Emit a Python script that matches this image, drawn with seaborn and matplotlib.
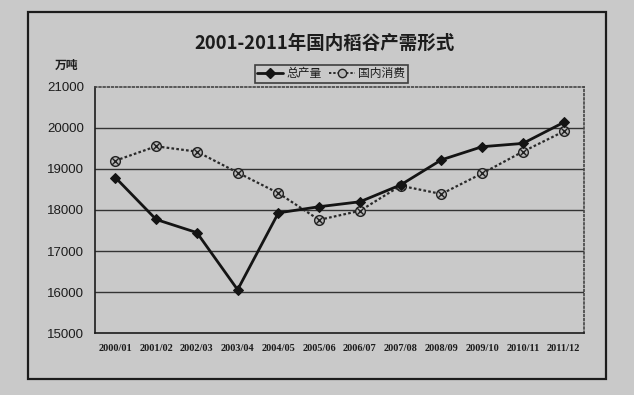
import matplotlib
matplotlib.use("Agg")
import matplotlib.pyplot as plt
import seaborn as sns
import pandas as pd
from matplotlib.patches import Rectangle
from matplotlib.lines import Line2D

years = ["2000/01", "2001/02", "2002/03", "2003/04", "2004/05", "2005/06",
         "2006/07", "2007/08", "2008/09", "2009/10", "2010/11", "2011/12"]
production = [18790, 17770, 17450, 16060, 17930, 18080,
              18200, 18610, 19220, 19540, 19620, 20130]
consumption = [19200, 19550, 19420, 18910, 18410, 17760,
               17980, 18590, 18390, 18890, 19420, 19910]
yticks = [15000, 16000, 17000, 18000, 19000, 20000, 21000]
title = "2001-2011年国内稻谷产需形式"
unit = "万吨"
name_prod = "总产量"
name_cons = "国内消费"

sns.set_theme(style="white")
plt.rcParams['font.family'] = ['Noto Sans CJK SC', 'DejaVu Sans']

bg = "#c9c9c9"
ink = "#1c1c1c"

df = pd.DataFrame({"year": years, "prod": production, "cons": consumption})

fig = plt.figure(figsize=(6.34, 3.95), dpi=100, facecolor=bg)
ax = fig.add_axes([95/634, 1-333.3/395, (584-95)/634, (333.3-86.7)/395])
ax.set_facecolor(bg)

# outer chart border
fig.patches.append(Rectangle((27.5/634, 1-379/395), (605.7-27.5)/634, (379-11.7)/395,
                             transform=fig.transFigure, fill=False, edgecolor=ink, lw=1.6))

for y in yticks[1:-1]:
    ax.axhline(y, color="#333333", lw=1.0, zorder=1)

sns.lineplot(data=df, x="year", y="cons", ax=ax, color="#2a2a2a", lw=1.6,
             linestyle=(0, (1.2, 1.0)), marker="o", markersize=7,
             markerfacecolor="#b8b8b8", markeredgecolor="#222222", markeredgewidth=1.0,
             sort=False, zorder=3)
sns.scatterplot(data=df, x="year", y="cons", ax=ax, marker="x", s=22, color="#222222",
                linewidth=1.0, zorder=4)
sns.lineplot(data=df, x="year", y="prod", ax=ax, color="#141414", lw=2.0,
             marker="D", markersize=5.5, markerfacecolor="#141414", markeredgecolor="#141414",
             sort=False, zorder=5)

ax.set_xlim(-0.5, 11.5)
ax.set_ylim(15000, 21000)
ax.set_yticks(yticks)
ax.set_yticklabels([str(v) for v in yticks], fontsize=9.5, color=ink, family="Liberation Sans")
ax.set_xticks(range(len(years)))
ax.set_xticklabels(years, fontsize=7.5, color=ink, family="Liberation Serif", fontweight="bold")
ax.set_xticks([i + 0.5 for i in range(-1, 12)], minor=True)
ax.tick_params(axis="x", which="major", length=0, pad=8)
ax.tick_params(axis="x", which="minor", length=3, direction="in", color=ink, width=1)
ax.tick_params(axis="y", length=0, pad=8)
ax.set_xlabel("")
ax.set_ylabel("")

for side in ["left", "bottom"]:
    ax.spines[side].set_color(ink)
    ax.spines[side].set_linewidth(1.2)
for side in ["top", "right"]:
    ax.spines[side].set_color("#444444")
    ax.spines[side].set_linewidth(1.2)
    ax.spines[side].set_linestyle((0, (1, 1.5)))

fig.text(325/634, 1-43/395, title, ha="center", va="center", fontsize=13.3,
         fontweight="bold", color=ink)
fig.text(67/634, 1-65/395, unit, ha="center", va="center", fontsize=8.5,
         fontweight="bold", color=ink)

handles = [
    Line2D([], [], color="#141414", lw=2.0, marker="D", markersize=5),
    Line2D([], [], color="#2a2a2a", lw=1.4, linestyle=(0, (1.2, 1.0)), marker="o",
           markersize=6, markerfacecolor="#b8b8b8", markeredgecolor="#222222"),
]
leg = ax.legend(handles, [name_prod, name_cons], loc="center",
                bbox_to_anchor=(0.483, 1.052), ncol=2, frameon=True, fontsize=8.5,
                handlelength=2.2, handletextpad=0.3, columnspacing=0.6,
                borderpad=0.2, fancybox=False, borderaxespad=0)
leg.get_frame().set_edgecolor(ink)
leg.get_frame().set_facecolor(bg)
leg.get_frame().set_linewidth(1.2)
for t in leg.get_texts():
    t.set_color(ink)

fig.savefig("out.png", dpi=100, facecolor=bg)
